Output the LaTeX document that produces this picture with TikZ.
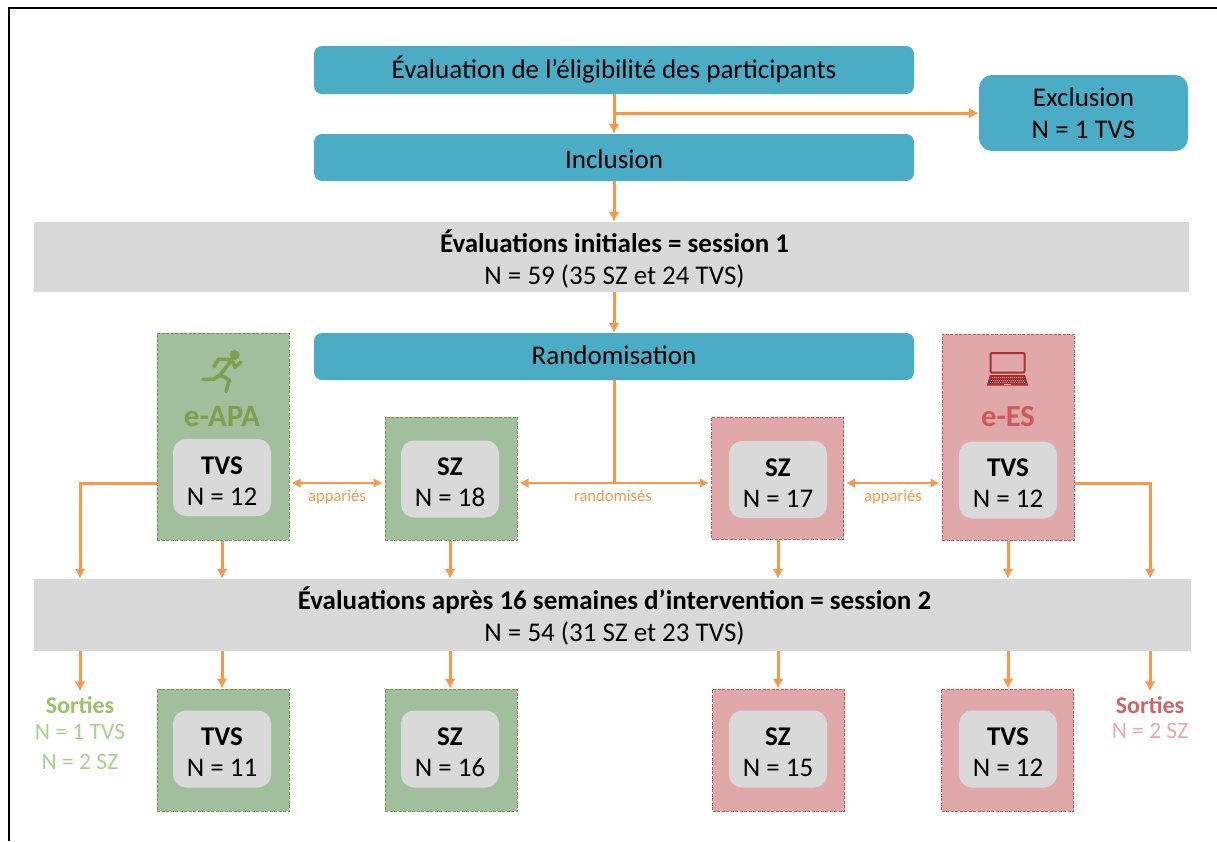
\documentclass[tikz,border=0pt]{standalone}
\usepackage{fontspec}
\setmainfont{Carlito}
\usetikzlibrary{arrows.meta}
\definecolor{tealbox}{HTML}{4AACC5}
\definecolor{greybar}{HTML}{D9D9D9}
\definecolor{arrowor}{HTML}{F9984C}
\definecolor{greenfill}{HTML}{A1BF9D}
\definecolor{greenline}{HTML}{76973F}
\definecolor{greentext}{HTML}{7F9F4C}
\definecolor{redfill}{HTML}{E0A8A8}
\definecolor{redline}{HTML}{C9545A}
\definecolor{redtext}{HTML}{CB5A5C}
\definecolor{redicon}{HTML}{A93030}
\definecolor{sortgreen}{HTML}{9CC268}
\definecolor{sortlight}{HTML}{A8D08D}
\definecolor{sortred}{HTML}{CE6468}
\definecolor{sortpale}{HTML}{E6A9A9}
\newcommand{\txt}{\fontsize{27}{32}\selectfont}
\newcommand{\groupn}[2]{\rule{0pt}{24pt}\textbf{#1}\\[-1pt]N = #2}
\begin{document}
\begin{tikzpicture}[x=1pt,y=-1pt,
    every node/.style={inner sep=0pt, align=center, font=\txt},
    tealnode/.style={fill=tealbox, rounded corners=8pt, minimum width=600pt},
    barnode/.style={fill=greybar, minimum height=70pt},
    greenbox/.style={draw=greenline, fill=greenfill, dash pattern=on 3pt off 1.5pt, line width=1pt, minimum width=132pt},
    redbox/.style={draw=redline, fill=redfill, dash pattern=on 3pt off 1.5pt, line width=1pt, minimum width=132pt},
    greynode/.style={fill=greybar, rounded corners=13pt, minimum width=98pt, minimum height=77pt},
    arw/.style={draw=arrowor, line width=3pt, -{Latex[length=10pt,width=11pt]}},
    twoarw/.style={draw=arrowor, line width=2.5pt, {Latex[length=9pt,width=10pt]}-{Latex[length=9pt,width=10pt]}, shorten >=2pt, shorten <=2pt},
    plain/.style={draw=arrowor, line width=3pt},
    small/.style={text=arrowor, font=\fontsize{16.6}{20}\selectfont}]
    \useasboundingbox (0,0) rectangle (1217,841);
    \draw[line width=2pt] (9,841) -- (9,7.5) -- (1217,7.5);

    \node (elig) at (614,70) [tealnode, minimum height=48pt] {Évaluation de l’éligibilité des participants};
    \node (incl) at (614,157.5) [tealnode, minimum height=47pt] {\rule{0pt}{22pt}Inclusion};
    \node (excl) at (1083.5,113) [fill=tealbox, rounded corners=13pt, minimum width=209pt, minimum height=76pt] {Exclusion\\N = 1 TVS};
    \node (evalA) at (611.5,257) [barnode, minimum width=1155pt] {\rule{0pt}{26pt}\hspace*{6pt}\textbf{Évaluations initiales = session 1}\\\hspace*{6pt}N = 59 (35 SZ et 24 TVS)};
    \node (rand) at (614,356.5) [tealnode, minimum height=47pt] {\rule[-3pt]{0pt}{3pt}Randomisation};

    \node (apa) at (223,436.5) [greenbox, minimum height=207pt] {};
    \node (szG) at (451,478.5) [greenbox, minimum height=123pt] {};
    \node (szR) at (777.5,478) [redbox, minimum height=122pt] {};
    \node (es) at (1008,437) [redbox, minimum height=206pt] {};

    \node (apaT) at (222,477.5) [greynode] {\groupn{TVS}{12}};
    \node (szGT) at (450,479) [greynode] {\groupn{SZ}{18}};
    \node (szRT) at (778,479.5) [greynode] {\groupn{SZ}{17}};
    \node (esT) at (1008,480) [greynode] {\groupn{TVS}{12}};

    \node (apaL) at (222,417) [text=greentext, font=\fontsize{31}{34}\selectfont\bfseries] {e-APA};
    \node (esL) at (1008,417) [text=redtext, font=\fontsize{30.5}{34}\selectfont\bfseries] {e-ES};

    % runner
    \fill[greentext] (234.7,355) circle (5);
    \draw[greentext, line width=3.6pt, line cap=round, line join=round]
        (231.7,360) -- (220,375) -- (213.3,379.3) -- (203,379.3)
        (220,375) -- (229.3,380) -- (226,391.5)
        (231,359.3) -- (218.3,359.3) -- (214,366.7)
        (232.7,361.7) -- (235,367.3) -- (241,362);
    % laptop
    \draw[redicon, line width=2pt, rounded corners=1pt] (990.5,353) rectangle (1024.5,372.5);
    \fill[redicon] (990,375) -- (1025,375) -- (1028.3,385.7) -- (986.7,385.7) -- cycle;
    \draw[redfill, line width=0.7pt, dash pattern=on 1pt off 1pt] (991.5,377.5) -- (1023.5,377.5) (990.5,380) -- (1024.5,380) (990,382.5) -- (1025,382.5);
    \draw[redfill, line width=1.2pt] (1004,384.6) -- (1011,384.6);

    \node (evalB) at (612.5,615) [barnode, minimum width=1157pt, minimum height=72pt] {\rule{0pt}{25pt}\hspace*{4pt}\textbf{Évaluations après 16 semaines d’intervention = session 2}\\\hspace*{4pt}N = 54 (31 SZ et 23 TVS)};

    \node (apaB) at (223,750) [greenbox, minimum height=122pt] {};
    \node (szGB) at (451,750) [greenbox, minimum height=122pt] {};
    \node (szRB) at (778.5,750) [redbox, minimum height=122pt] {};
    \node (esB) at (1007.5,750) [redbox, minimum height=122pt] {};

    \node (apaBT) at (222,749) [greynode] {\groupn{TVS}{11}};
    \node (szGBT) at (450,749) [greynode] {\groupn{SZ}{16}};
    \node (szRBT) at (778,749) [greynode] {\groupn{SZ}{15}};
    \node (esBT) at (1008,749) [greynode] {\groupn{TVS}{12}};

    \node (sortG) at (80,705) [text=sortgreen, font=\fontsize{24}{27}\selectfont\bfseries] {Sorties};
    \node (sortGa) at (80,732) [text=sortlight, font=\fontsize{23.5}{27}\selectfont] {N = 1 TVS};
    \node (sortGb) at (80,762) [text=sortlight, font=\fontsize{23.5}{27}\selectfont] {N = 2 SZ};
    \node (sortR) at (1150,705) [text=sortred, font=\fontsize{24}{27}\selectfont\bfseries] {Sorties};
    \node (sortRa) at (1150,731) [text=sortpale, font=\fontsize{23.5}{27}\selectfont] {N = 2 SZ};

    \node (appG) at (337,497) [small] {appariés};
    \node (randL) at (613,496) [small] {randomisés};
    \node (appR) at (893,497) [small] {appariés};

    \coordinate (branch) at (614,113);
    \coordinate (split) at (614,483);
    \coordinate (leftC) at (80,483);
    \coordinate (rightC) at (1150,483);

    \draw[arw] (elig) -- (incl);
    \draw[arw] (branch) -- (excl.west);
    \draw[arw] (incl) -- (incl.south |- evalA.north);
    \draw[arw] (rand.north |- evalA.south) -- (rand);

    \draw[plain] (rand.south) -- (split);
    \draw[twoarw] (szG.east |- split) -- (szR.west |- split);
    \draw[twoarw] (apa.east |- split) -- (szG.west |- split);
    \draw[twoarw] (szR.east |- split) -- (es.west |- split);

    \draw[arw] (apa.west |- leftC) -- (leftC) -- (leftC |- evalB.north);
    \draw[arw] (es.east |- rightC) -- (rightC) -- (rightC |- evalB.north);

    \draw[arw] (apaT.south |- apa.south) -- (apaT.south |- evalB.north);
    \draw[arw] (szGT.south |- szG.south) -- (szGT.south |- evalB.north);
    \draw[arw] (szRT.south |- szR.south) -- (szRT.south |- evalB.north);
    \draw[arw] (esT.south |- es.south) -- (esT.south |- evalB.north);

    \draw[arw] (sortG.north |- evalB.south) -- ([yshift=5pt]sortG.north);
    \draw[arw] (apaBT.north |- evalB.south) -- (apaBT.north |- apaB.north);
    \draw[arw] (szGBT.north |- evalB.south) -- (szGBT.north |- szGB.north);
    \draw[arw] (szRBT.north |- evalB.south) -- (szRBT.north |- szRB.north);
    \draw[arw] (esBT.north |- evalB.south) -- (esBT.north |- esB.north);
    \draw[arw] (sortR.north |- evalB.south) -- ([yshift=5pt]sortR.north);
\end{tikzpicture}
\end{document}
